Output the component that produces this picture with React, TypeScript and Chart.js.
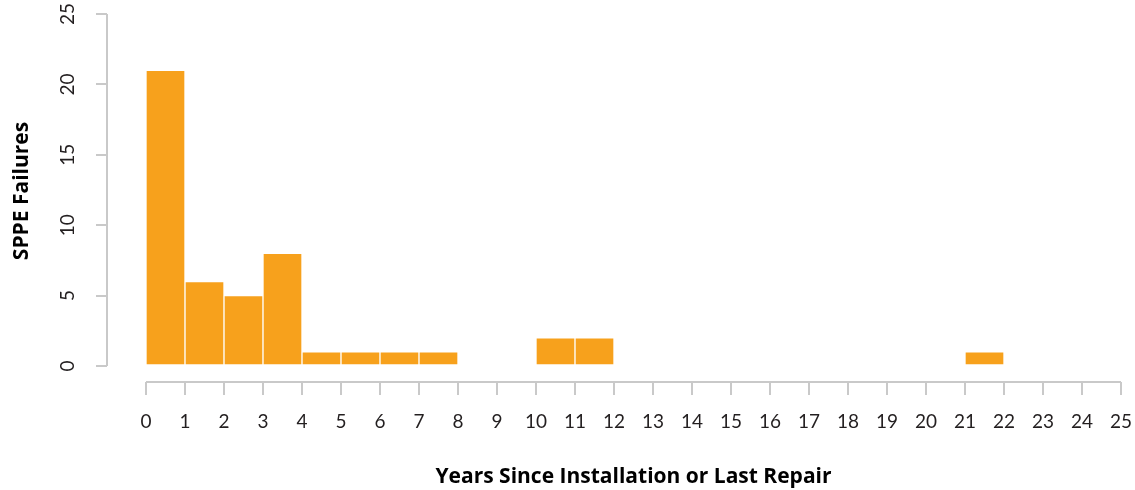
import React, { useEffect, useRef } from "react";
import { Chart, registerables } from "chart.js";

Chart.register(...registerables);

// Histogram bins (start year of each 1-year bin) and SPPE failure counts
const binStarts: number[] = [0, 1, 2, 3, 4, 5, 6, 7, 10, 11, 21];
const failures: number[] = [21, 6, 5, 8, 1, 1, 1, 1, 2, 2, 1];
const xTickValues: number[] = Array.from({ length: 26 }, (_, i) => i);
const yTickValues: number[] = [0, 5, 10, 15, 20, 25];
const xTitle = "Years Since Installation or Last Repair";
const yTitle = "SPPE Failures";

const BAR_COLOR = "#F7A11C";
const AXIS_COLOR = "#c9c9c9";
const TEXT_COLOR = "#231f20";
const TICK_FONT = { family: "Lato, 'Open Sans', sans-serif", size: 19 };
const TITLE_FONT = { family: "'Open Sans', Lato, sans-serif", size: 21, weight: "bold" as const };

const axisLinesPlugin = {
  id: "axisLines",
  afterDraw(chart: any) {
    const { ctx, chartArea, scales } = chart;
    const x = scales.x;
    const y = scales.y;
    ctx.save();
    ctx.strokeStyle = AXIS_COLOR;
    ctx.lineWidth = 2;
    ctx.beginPath();
    ctx.moveTo(x.getPixelForValue(xTickValues[0]), chartArea.bottom);
    ctx.lineTo(x.getPixelForValue(xTickValues[xTickValues.length - 1]), chartArea.bottom);
    ctx.moveTo(chartArea.left, y.getPixelForValue(yTickValues[0]));
    ctx.lineTo(chartArea.left, y.getPixelForValue(yTickValues[yTickValues.length - 1]));
    ctx.stroke();
    ctx.restore();
  },
};

export default function App() {
  const canvasRef = useRef<HTMLCanvasElement | null>(null);

  useEffect(() => {
    document.body.style.margin = "0";
    document.body.style.overflow = "hidden";
    const canvas = canvasRef.current;
    if (!canvas) return;
    const chart = new Chart(canvas, {
      type: "bar",
      data: {
        datasets: [
          {
            data: binStarts.map((s, i) => ({ x: s + 0.5, y: failures[i] })),
            backgroundColor: BAR_COLOR,
            borderColor: "rgba(255,255,255,0.85)",
            borderWidth: 1,
            borderSkipped: false,
            barPercentage: 1,
            categoryPercentage: 1,
          },
        ],
      },
      options: {
        responsive: false,
        animation: false,
        layout: { padding: 0 },
        plugins: { legend: { display: false }, tooltip: { enabled: false } },
        scales: {
          x: {
            type: "linear",
            min: -1,
            max: 26,
            offset: false,
            afterBuildTicks: (scale: any) => {
              scale.ticks = xTickValues.map((v) => ({ value: v }));
            },
            afterFit: (scale: any) => {
              scale.height = 108;
              scale.paddingLeft = 0;
              scale.paddingRight = 0;
            },
            ticks: {
              stepSize: 1,
              includeBounds: false,
              autoSkip: false,
              maxRotation: 0,
              minRotation: 0,
              color: TEXT_COLOR,
              font: TICK_FONT,
              padding: 15,
            },
            grid: {
              offset: false,
              drawOnChartArea: false,
              drawTicks: true,
              tickLength: 13,
              color: AXIS_COLOR,
              lineWidth: 2,
            },
            border: { display: false },
            title: {
              display: true,
              text: xTitle,
              color: "#000",
              font: TITLE_FONT,
              padding: { top: 0, bottom: 0 },
            },
          },
          y: {
            type: "linear",
            min: -1.14,
            max: 26,
            afterBuildTicks: (scale: any) => {
              scale.ticks = yTickValues.map((v) => ({ value: v }));
            },
            afterFit: (scale: any) => {
              scale.width = 107;
              scale.paddingTop = 0;
              scale.paddingBottom = 0;
            },
            ticks: {
              stepSize: 5,
              includeBounds: false,
              minRotation: 90,
              maxRotation: 90,
              crossAlign: "center",
              color: TEXT_COLOR,
              font: TICK_FONT,
              padding: 17,
            },
            grid: {
              drawOnChartArea: false,
              drawTicks: true,
              tickLength: 11,
              color: AXIS_COLOR,
              lineWidth: 2,
            },
            border: { display: false },
            title: {
              display: true,
              text: yTitle,
              color: "#000",
              font: TITLE_FONT,
              padding: { top: 9, bottom: 0 },
            },
          },
        },
      },
      plugins: [axisLinesPlugin],
    });
    return () => chart.destroy();
  }, []);

  return (
    <div style={{ width: 1135, height: 490, overflow: "hidden", position: "relative" }}>
      <canvas ref={canvasRef} width={1160} height={490} style={{ display: "block" }} />
    </div>
  );
}
